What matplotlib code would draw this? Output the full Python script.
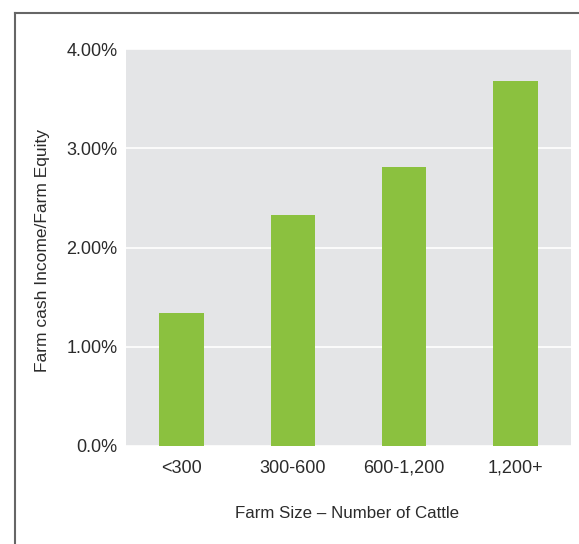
import matplotlib
matplotlib.use("Agg")
import matplotlib.pyplot as plt
from matplotlib.lines import Line2D

sizes = ["<300", "300-600", "600-1,200", "1,200+"]
ratio = [1.34, 2.33, 2.81, 3.68]  # percent
yticks = [0, 1, 2, 3, 4]
ytick_labels = ["0.0%", "1.00%", "2.00%", "3.00%", "4.00%"]

plt.rcParams["font.family"] = ["Liberation Sans", "DejaVu Sans"]

fig = plt.figure(figsize=(5.79, 5.44), dpi=100)
ax = fig.add_axes([126 / 579, 1 - 446 / 544, 445 / 579, 397 / 544])
ax.set_facecolor("#e4e5e7")

ax.bar(range(len(sizes)), ratio, width=0.4, color="#8bc13f", zorder=3)
ax.set_xlim(-0.5, 3.5)
ax.set_ylim(0, 4)
ax.set_yticks(yticks)
ax.set_yticklabels(ytick_labels)
ax.set_xticks(range(len(sizes)))
ax.set_xticklabels(sizes)
ax.grid(axis="y", color="white", linewidth=1.2, zorder=1)
ax.tick_params(length=0, labelsize=13, labelcolor="#2b2b2b")
ax.tick_params(axis="y", pad=6)
ax.tick_params(axis="x", pad=10)
for s in ax.spines.values():
    s.set_visible(False)

fig.text(43 / 579, 1 - 251 / 544, "Farm cash Income/Farm Equity", rotation=90,
         ha="center", va="center", fontsize=12.5, color="#2b2b2b")
fig.text(347 / 579, 1 - 513 / 544, "Farm Size \u2013 Number of Cattle",
         ha="center", va="center", fontsize=12.2, color="#2b2b2b")

# outer frame (left and top edges only)
fig.add_artist(Line2D([15 / 579, 15 / 579], [0, 1 - 13 / 544], color="#666666", lw=1.5))
fig.add_artist(Line2D([15 / 579, 1], [1 - 13 / 544, 1 - 13 / 544], color="#666666", lw=1.5))

fig.savefig("out.png", dpi=100)
